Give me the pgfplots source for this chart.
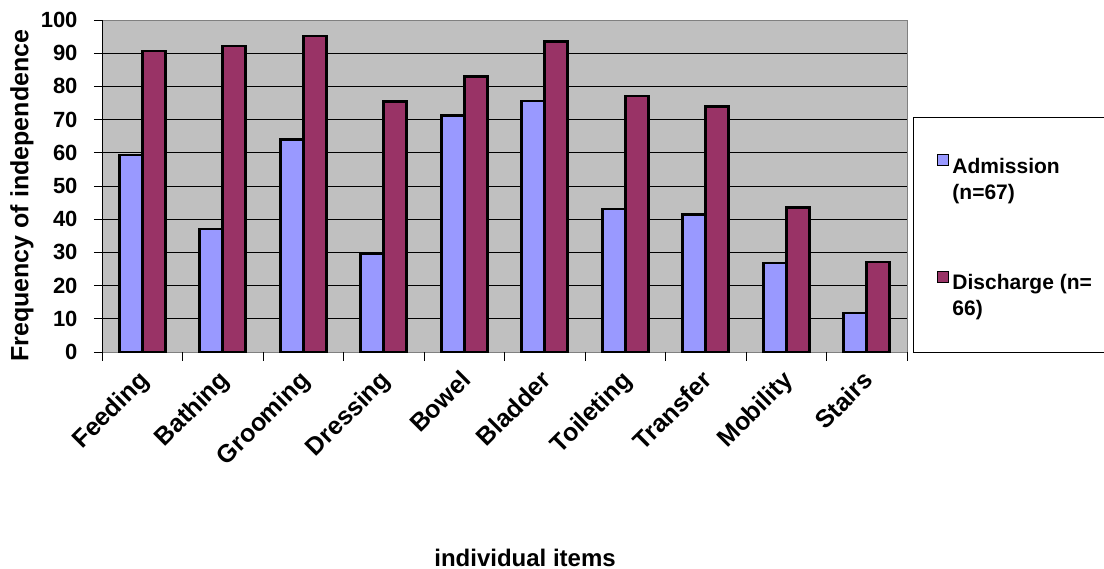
\documentclass[border=0pt]{standalone}
\usepackage{fontspec}
\setmainfont{Liberation Sans}
\usepackage{pgfplots}
\pgfplotsset{compat=1.18}
\definecolor{adm}{HTML}{9999FF}
\definecolor{dis}{HTML}{993366}
\definecolor{plotbg}{HTML}{C0C0C0}
\pgfplotsset{sqlegend/.style={legend image code/.code={\draw[##1,line width=1.2bp] (0bp,0.5bp) rectangle (11bp,11.5bp);}}}

\begin{document}
\begin{tikzpicture}
\useasboundingbox (0,0) rectangle (1104bp,569bp);
\begin{axis}[
  at={(102bp,217bp)}, anchor=south west,
  scale only axis, width=805bp, height=332bp,
  clip=false,
  ybar=0pt, bar width=23bp,
  every axis plot post/.append style={sqlegend},
  xmin=-0.5, xmax=9.5, ymin=0, ymax=100,
  ytick={0,10,...,100},
  xtick={0,...,9},
  xticklabels={Feeding,Bathing,Grooming,Dressing,Bowel,Bladder,Toileting,Transfer,Mobility,Stairs},
  xtick style={draw=none},
  extra x ticks={-0.5,0.5,...,9.5},
  extra x tick labels={},
  extra x tick style={xtick style={draw=black}, major tick length=9bp},
  tick pos=left,
  tick align=outside,
  major tick length=8bp,
  tick style={black, line width=0.9bp},
  ymajorgrids,
  grid style={black, line width=0.9bp},
  axis line style={draw=gray, line width=0.9bp},
  axis background/.style={fill=plotbg},
  /pgf/number format/assume math mode=true,
  yticklabel style={font=\fontsize{22bp}{26bp}\selectfont\bfseries, xshift=-13bp},
  xticklabel style={font=\fontsize{25bp}{29bp}\selectfont\bfseries, xshift=-5bp, yshift=-4bp, rotate=45, anchor=north east},
  ylabel={Frequency of independence},
  xlabel={individual items},
  every axis y label/.style={at={(axis description cs:-0.0994,0.471)}, rotate=90, anchor=center, font=\fontsize{25bp}{30bp}\selectfont\bfseries},
  every axis x label/.style={at={(axis description cs:0.5255,-0.645)}, anchor=base, font=\fontsize{24bp}{28bp}\selectfont\bfseries},
  legend style={at={(axis description cs:1.0075,0.705)}, anchor=north west, draw=none, fill=none,
    inner xsep=24bp, inner ysep=36bp, row sep=94bp,
    font=\fontsize{21bp}{26bp}\selectfont\bfseries,
    /tikz/every odd column/.append style={column sep=1bp}},
  legend cell align=left,
]
\draw[black, line width=0.9bp, fill=white] (rel axis cs:1.0075,0) rectangle (rel axis cs:1.5,0.705);
\addplot[fill=adm, draw=black, line width=2.6bp] coordinates {
  (0,59.3) (1,37.0) (2,64.0) (3,29.6) (4,71.3)
  (5,75.6) (6,43.1) (7,41.4) (8,26.8) (9,11.8)
};
\addlegendentry{\parbox[t]{200bp}{Admission\\(n=67)}}
\addplot[fill=dis, draw=black, line width=2.6bp] coordinates {
  (0,90.7) (1,92.2) (2,95.2) (3,75.4) (4,82.9)
  (5,93.6) (6,77.1) (7,73.9) (8,43.5) (9,27.1)
};
\addlegendentry{\parbox[t]{200bp}{Discharge (n=\\66)}}
\draw[black, line width=0.9bp] (rel axis cs:0,0) -- (rel axis cs:0,1);
\end{axis}
\end{tikzpicture}
\end{document}
